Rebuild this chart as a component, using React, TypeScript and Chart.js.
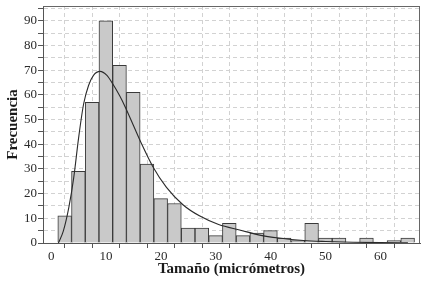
import React, { useEffect, useRef } from "react";
import { Chart, registerables } from "chart.js";

Chart.register(...registerables);

// Histogram bins (centres, micrómetros) and counts
const binCenters = [
  2.45, 4.95, 7.45, 9.95, 12.45, 14.95, 17.45, 19.95, 22.45, 24.95, 27.45, 29.95, 32.45,
  34.95, 37.45, 39.95, 42.45, 44.95, 47.45, 49.95, 52.45, 54.95, 57.45, 59.95, 62.45, 64.95,
];
const counts = [
  11, 29, 57, 90, 72, 61, 32, 18, 16, 6, 6, 3, 8, 3, 4, 5, 2, 1, 8, 2, 2, 0, 2, 0, 1, 2,
];

// Fitted density curve
const curveX = [
  1.3, 2.2, 3.2, 4.1, 5.0, 5.9, 6.8, 7.7, 8.9, 10.1, 11.2, 12.5, 13.5, 15, 16.5, 18.5, 21,
  24, 27, 30.5, 34.5, 38, 41.5, 46, 50, 55, 60, 65,
];
const curveY = [
  0, 4.8, 14.3, 26.5, 42.8, 56.3, 63.8, 67.9, 69.5, 68, 64.5, 59.5, 55, 47.5, 40, 31, 22.5,
  15.5, 11, 7.5, 5.2, 3.2, 2.0, 1.0, 0.6, 0.3, 0.15, 0.1,
];

const xTitle = "Tamaño (micrómetros)";
const yTitle = "Frecuencia";

const FONT = "'Liberation Serif', 'Times New Roman', serif";

const frame = {
  id: "frame",
  afterDraw(chart: any) {
    const { ctx, chartArea } = chart;
    ctx.save();
    ctx.strokeStyle = "#666";
    ctx.lineWidth = 1;
    ctx.beginPath();
    ctx.moveTo(chartArea.left, chartArea.top + 0.5);
    ctx.lineTo(chartArea.right, chartArea.top + 0.5);
    ctx.moveTo(chartArea.right - 0.5, chartArea.top);
    ctx.lineTo(chartArea.right - 0.5, chartArea.bottom);
    ctx.stroke();
    ctx.restore();
  },
};

export default function App() {
  const ref = useRef<HTMLCanvasElement>(null);

  useEffect(() => {
    document.body.style.margin = "0";
    const barData = binCenters.map((x, i) => ({ x, y: counts[i] === 0 ? null : counts[i] }));
    const lineData = curveX.map((x, i) => ({ x, y: curveY[i] }));
    const chart = new Chart(ref.current as HTMLCanvasElement, {
      type: "bar",
      data: {
        datasets: [
          {
            type: "line",
            data: lineData as any,
            borderColor: "#2a2a2a",
            borderWidth: 1.1,
            pointRadius: 0,
            cubicInterpolationMode: "monotone",
            fill: false,
            order: 0,
          } as any,
          {
            type: "bar",
            data: barData as any,
            backgroundColor: "#c9c9c9",
            borderColor: "#3a3a3a",
            borderWidth: 1,
            barPercentage: 1,
            categoryPercentage: 1,
            order: 1,
          } as any,
        ],
      },
      options: {
        animation: false,
        responsive: false,
        layout: { padding: { top: 6, right: 4, left: 0, bottom: 0 } },
        plugins: { legend: { display: false }, tooltip: { enabled: false } },
        scales: {
          x: {
            type: "linear",
            offset: false,
            min: -1.5,
            max: 67.2,
            afterFit(scale: any) {
              scale.height = 38;
              scale.paddingLeft = 0;
              scale.paddingRight = 0;
            },
            ticks: {
              stepSize: 5,
              includeBounds: false,
              autoSkip: false,
              maxRotation: 0,
              padding: 1,
              color: "#2a2a2a",
              font: { family: FONT, size: 13 },
              callback: (v: any) => (Number(v) % 10 === 0 ? String(v) : ""),
            } as any,
            grid: {
              color: "#d2d2d2",
              lineWidth: 1,
              tickLength: 5,
              tickColor: "#555",
              tickBorderDash: [],
            } as any,
            border: { display: true, color: "#555", width: 1, dash: [4, 3] } as any,
            title: {
              display: true,
              text: xTitle,
              color: "#1a1a1a",
              font: { family: FONT, size: 15, weight: "bold" },
              padding: { top: 0, bottom: 3 },
            },
          },
          y: {
            min: 0,
            max: 96,
            afterFit(scale: any) {
              scale.width = 43;
              scale.paddingTop = 0;
              scale.paddingBottom = 0;
            },
            ticks: {
              stepSize: 5,
              includeBounds: false,
              autoSkip: false,
              padding: 1,
              color: "#2a2a2a",
              font: { family: FONT, size: 13 },
              callback: (v: any) => (Number(v) % 10 === 0 ? String(v) : ""),
            } as any,
            grid: {
              color: "#d2d2d2",
              lineWidth: 1,
              tickLength: 5,
              tickColor: "#555",
              tickBorderDash: [],
            } as any,
            border: { display: true, color: "#555", width: 1, dash: [4, 3] } as any,
            title: {
              display: true,
              text: yTitle,
              color: "#1a1a1a",
              font: { family: FONT, size: 15, weight: "bold" },
              padding: { top: 4, bottom: 0 },
            },
          },
        },
      },
      plugins: [frame],
    });
    return () => chart.destroy();
  }, []);

  return (
    <div style={{ width: 424, height: 281, background: "#fff" }}>
      <canvas ref={ref} width={424} height={281} style={{ display: "block" }} />
    </div>
  );
}
